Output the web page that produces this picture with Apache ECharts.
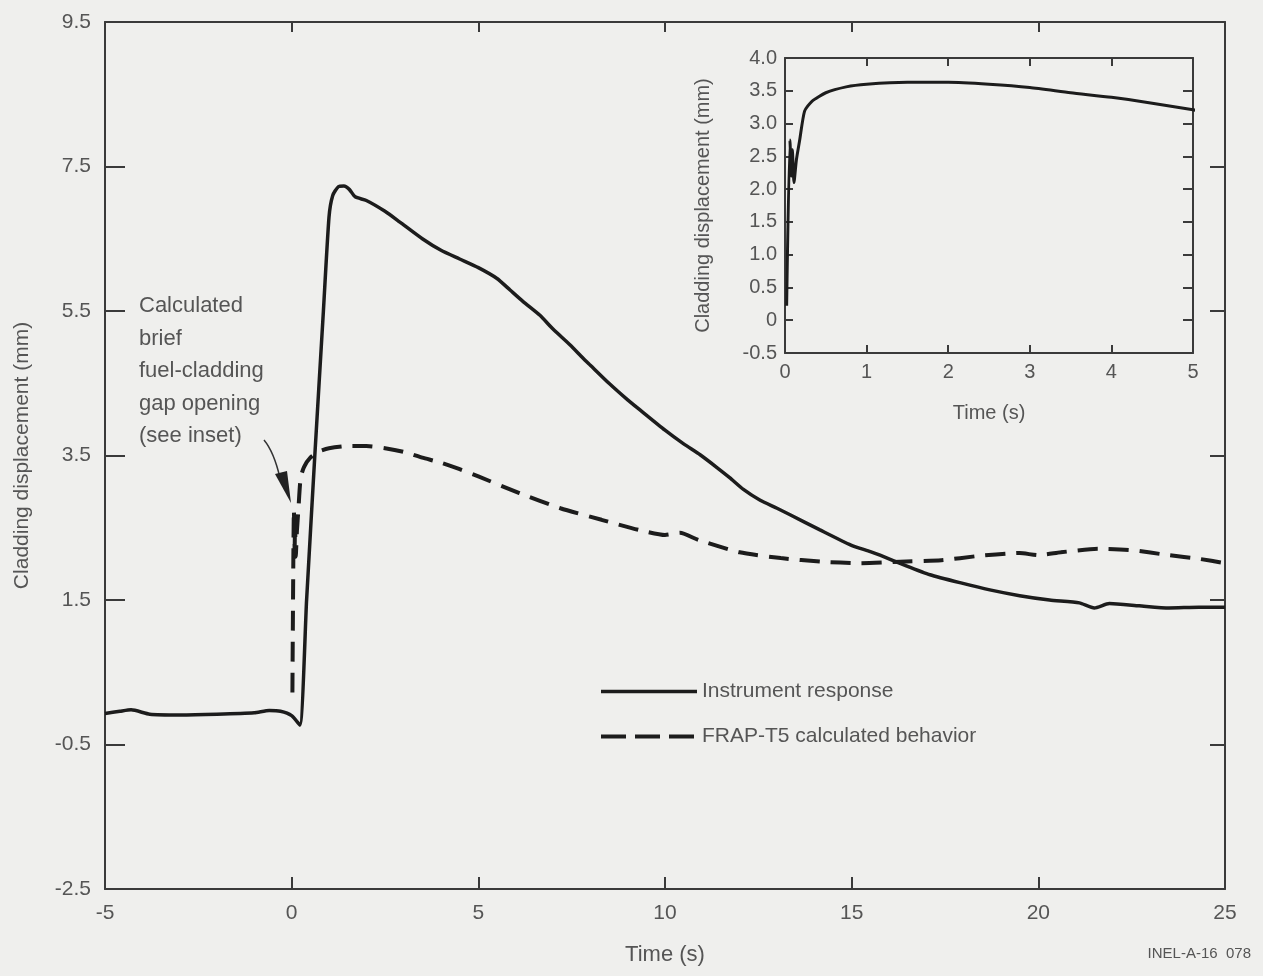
<!DOCTYPE html>
<html>
<head>
<meta charset="utf-8">
<script src="https://cdn.jsdelivr.net/npm/echarts@6/dist/echarts.min.js"></script>
<style>
html,body{margin:0;padding:0;background:#efefed;}
#c{width:1263px;height:976px;}
</style>
</head>
<body>
<div id="c"></div>
<script>
// ---- data ----
const instTime = [-5.0,-4.6,-4.3,-3.8,-3.0,-2.0,-1.0,-0.6,-0.3,0.0,0.22,0.4,0.62,0.85,1.0,1.1,1.25,1.4,1.55,1.7,2.0,2.5,2.9,3.5,4.0,4.5,5.0,5.5,5.85,6.2,6.65,7.0,7.46,7.8,8.0,8.5,9.0,9.33,10.0,10.5,10.94,11.4,11.74,12.1,12.55,13.0,13.35,14.15,14.98,15.5,15.76,16.43,17.1,17.9,18.7,19.5,20.3,21.1,21.5,21.9,22.7,23.5,24.3,25.0];
const instValue = [-0.07,-0.04,-0.02,-0.08,-0.09,-0.08,-0.06,-0.03,-0.04,-0.1,-0.23,1.5,3.5,5.5,6.8,7.1,7.22,7.23,7.18,7.08,7.03,6.88,6.73,6.50,6.34,6.22,6.10,5.95,5.79,5.63,5.44,5.25,5.03,4.85,4.75,4.50,4.27,4.13,3.85,3.66,3.51,3.33,3.19,3.03,2.88,2.77,2.68,2.47,2.26,2.17,2.12,1.98,1.85,1.74,1.64,1.56,1.50,1.46,1.39,1.45,1.42,1.39,1.40,1.40];

const calcTime = [0.02,0.06,0.08,0.09,0.11,0.14,0.18,0.24,0.33,0.5,0.75,1.0,1.5,2.0,2.5,3.0,3.5,4.0,4.5,5.0,6.1,7.2,8.3,9.3,10.0,10.4,10.9,12.0,13.1,14.2,15.2,16.3,17.4,18.4,19.5,20.0,20.6,21.6,22.5,23.5,24.3,25.0];
const calcValue = [0.22,2.75,2.2,2.6,2.1,2.45,2.75,3.19,3.34,3.47,3.56,3.60,3.63,3.63,3.60,3.55,3.47,3.40,3.31,3.21,2.98,2.77,2.61,2.47,2.40,2.43,2.33,2.16,2.08,2.03,2.01,2.03,2.05,2.11,2.15,2.12,2.16,2.21,2.19,2.12,2.07,2.01];

const mainXTicks = [-5,0,5,10,15,20,25];
const mainYLabels = [-2.5,-0.5,1.5,3.5,5.5,7.5,9.5];
const mainYTicks = [-0.5,1.5,3.5,5.5,7.5];
const insetXTicks = [0,1,2,3,4,5];
const insetYTicks = [-0.5,0,0.5,1.0,1.5,2.0,2.5,3.0,3.5,4.0];

const seriesNames = ['Instrument response','FRAP-T5 calculated behavior'];

// ---- build ----
const zip = (a,b) => a.map((v,i)=>[v,b[i]]);
const FONT = "'Liberation Sans', Arial, sans-serif";
const TXT = '#555';
const AX = '#3a3a3a';
const LINE = '#1c1c1c';

function axisBase(extra){
  return Object.assign({
    type:'value',
    splitLine:{show:false},
    axisLine:{show:true,onZero:false,lineStyle:{color:AX,width:2}},
    axisTick:{show:true,inside:true,length:12,lineStyle:{color:AX,width:2}},
    axisLabel:{show:false,fontFamily:FONT,color:TXT,fontSize:21},
    nameTextStyle:{fontFamily:FONT,color:TXT,fontSize:21}
  }, extra);
}

const chart = echarts.init(document.getElementById('c'), null, {renderer:'canvas'});
chart.setOption({
  backgroundColor:'#efefed',
  animation:false,
  grid:[
    {left:105, top:22, width:1120, height:867},
    {left:785, top:58, width:408, height:295}
  ],
  legend:{
    data:[
      {name:seriesNames[0],lineStyle:{width:3.5}},
      {name:seriesNames[1],lineStyle:{type:[25,9],width:4}}
    ],
    orient:'vertical',
    left:594, top:676,
    itemWidth:96, itemHeight:16, itemGap:24,
    itemStyle:{opacity:0},
    textStyle:{fontFamily:FONT,color:TXT,fontSize:21}
  },
  xAxis:[
    axisBase({gridIndex:0,position:'bottom',min:mainXTicks[0],max:mainXTicks[mainXTicks.length-1],interval:5,
      name:'Time (s)',nameLocation:'middle',nameGap:55,nameTextStyle:{fontFamily:FONT,color:TXT,fontSize:22},
      axisLabel:{show:true,fontFamily:FONT,color:TXT,fontSize:21,margin:14}}),
    axisBase({gridIndex:0,position:'top',min:-5,max:25,interval:5,axisTick:{show:true,inside:true,length:10,lineStyle:{color:AX,width:2}}}),
    axisBase({gridIndex:1,position:'bottom',min:0,max:5,interval:1,
      name:'Time (s)',nameLocation:'middle',nameGap:50,nameTextStyle:{fontFamily:FONT,color:TXT,fontSize:20},
      axisTick:{show:true,inside:true,length:8,lineStyle:{color:AX,width:2}},
      axisLabel:{show:true,fontFamily:FONT,color:TXT,fontSize:20,margin:9}}),
    axisBase({gridIndex:1,position:'top',min:0,max:5,interval:1,axisTick:{show:true,inside:true,length:8,lineStyle:{color:AX,width:2}}})
  ],
  yAxis:[
    axisBase({gridIndex:0,position:'left',min:-2.5,max:9.5,
      name:'Cladding displacement (mm)',nameLocation:'middle',nameGap:72,nameTextStyle:{fontFamily:FONT,color:TXT,fontSize:21},
      axisTick:{show:true,inside:true,length:20,lineStyle:{color:AX,width:2},customValues:mainYTicks},
      axisLabel:{show:true,fontFamily:FONT,color:TXT,fontSize:21,margin:14,customValues:mainYLabels,formatter:v=>v.toFixed(1)}}),
    axisBase({gridIndex:0,position:'right',min:-2.5,max:9.5,
      axisTick:{show:true,inside:true,length:15,lineStyle:{color:AX,width:2},customValues:mainYTicks}}),
    axisBase({gridIndex:1,position:'left',min:-0.5,max:4,interval:0.5,
      name:'Cladding displacement (mm)',nameLocation:'middle',nameGap:72,nameTextStyle:{fontFamily:FONT,color:TXT,fontSize:20},
      axisTick:{show:true,inside:true,length:8,lineStyle:{color:AX,width:2}},
      axisLabel:{show:true,fontFamily:FONT,color:TXT,fontSize:20,margin:8,formatter:v=>v===0?'0':v.toFixed(1)}}),
    axisBase({gridIndex:1,position:'right',min:-0.5,max:4,interval:0.5,
      axisTick:{show:true,inside:true,length:10,lineStyle:{color:AX,width:2}}})
  ],
  series:[
    {name:seriesNames[0],type:'line',xAxisIndex:0,yAxisIndex:0,data:zip(instTime,instValue),
      smooth:0.2,
      symbol:'none',showSymbol:false,lineStyle:{color:LINE,width:3.5},itemStyle:{color:LINE},z:3},
    {name:seriesNames[1],type:'line',xAxisIndex:0,yAxisIndex:0,data:zip(calcTime,calcValue),
      smooth:0.2,
      symbol:'none',showSymbol:false,lineStyle:{color:LINE,width:4,type:[20,11]},itemStyle:{color:LINE},z:3},
    {name:'inset',type:'line',xAxisIndex:2,yAxisIndex:2,data:zip(calcTime,calcValue),clip:true,
      smooth:0.2,
      symbol:'none',showSymbol:false,lineStyle:{color:LINE,width:3},itemStyle:{color:LINE},z:3}
  ],
  graphic:[
    {type:'text',left:139,top:290,style:{text:'Calculated\nbrief\nfuel-cladding\ngap opening\n(see inset)',
      font:"22px 'Liberation Sans', Arial, sans-serif",fill:TXT,lineHeight:32.5}},
    {type:'bezierCurve',shape:{x1:264,y1:440,x2:280,y2:478,cpx1:274,cpy1:452},style:{stroke:'#333',lineWidth:1.5,fill:null}},
    {type:'polygon',shape:{points:[[275,474],[287,471],[291,503]]},style:{fill:'#222'}},
    {type:'text',right:12,top:946,style:{text:'INEL-A-16  078',font:"15px 'Liberation Sans', Arial, sans-serif",fill:TXT}}
  ]
});
</script>
</body>
</html>
